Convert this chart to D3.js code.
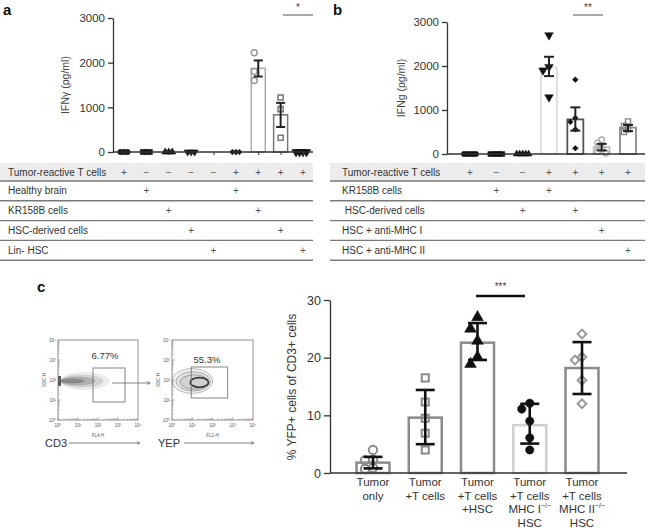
<!DOCTYPE html>
<html><head><meta charset="utf-8">
<script src="https://cdn.jsdelivr.net/npm/d3@7"></script>
<style>body{margin:0;background:#fff}svg{display:block;font-family:"Liberation Sans",Arial,sans-serif}</style>
</head><body><script>
// ================= DATA =================
// Panel a
const aGroups = ["g1","g2","g3","g4","g5","g6","g7","g8","g9"];
const aMeans  = [0,0,0,0,0,0,1873,833,0];
const aErrLo  = [0,0,0,0,0,0,1690,560,0];
const aErrHi  = [0,0,0,0,0,0,2050,1100,0];
const aPoints = [[0,0,0],[0,0,0],[0,0,0],[0,0,0],[],[0,0,0],[2220,1800,1600],[1220,960,320],[0,0,0,0]];
const aTicks  = [0,1000,2000,3000];
const aRowLabels = ["Tumor-reactive T cells","Healthy brain","KR158B cells","HSC-derived cells","Lin- HSC"];
const aRowMarks = [
  ["+","−","−","−","−","+","+","+","+"],
  ["","+","","","","+","","",""],
  ["","","+","","","","+","",""],
  ["","","","+","","","","+",""],
  ["","","","","+","","","","+"]];
// Panel b
const bGroups = ["h1","h2","h3","h4","h5","h6","h7"];
const bMeans  = [0,0,0,1967,786,156,600];
const bErrLo  = [0,0,0,1770,530,80,520];
const bErrHi  = [0,0,0,2210,1060,230,660];
const bPoints = [[0,0,0,0,0],[0,0,0,0,0],[0,0,0,0,0],[2700,1980,1900,1290],[1690,820,730,560,130],[320,250,130,60,20],[740,640,560,500]];
const bTicks  = [0,1000,2000,3000];
const bRowLabels = ["Tumor-reactive T cells","KR158B cells"," HSC-derived cells","HSC + anti-MHC I","HSC + anti-MHC II"];
const bRowMarks = [
  ["+","−","−","+","+","+","+"],
  ["","+","","+","","",""],
  ["","","+","","+","",""],
  ["","","","","","+",""],
  ["","","","","","","+"]];
// Panel c
const cLabels = [["Tumor","only"],["Tumor","+T cells"],["Tumor","+T cells","+HSC"],["Tumor","+T cells","MHC I|−/−","HSC"],["Tumor","+T cells","MHC II|−/−","HSC"]];
const cMeans  = [1.8,9.6,22.6,8.3,18.2];
const cErrLo  = [0.8,5.0,19.6,5.1,13.7];
const cErrHi  = [2.8,14.4,26.0,12.0,22.7];
const cPoints = [[4.0,2.3,2.2,0.9,0.7],[16.5,12.3,9.5,6.9,4.0],[27.0,25.0,22.9,20.1,18.9],[12.1,11.1,9.0,6.1,4.0],[24.1,20.1,19.6,16.1,12.0]];
const cTicks  = [0,10,20,30];
// Flow cytometry insets (log10 decades)
const flowDecades = [0,1,2,3,4];
const flow1Gate = {x:[1.75,3.35], y:[0.9,2.6]};
const flow2Gate = {x:[0.95,2.75], y:[1.1,2.65]};
const flow1Pct = "6.77%", flow2Pct = "55.3%";
const flow1Blobs = [{cx:1.35,cy:1.95,rx:1.2,ry:0.42},{cx:1.2,cy:1.95,rx:1.05,ry:0.3},{cx:1.0,cy:1.95,rx:0.85,ry:0.2},{cx:0.7,cy:1.95,rx:0.6,ry:0.1}];
const flow2Blobs = [{cx:1.0,cy:1.95,rx:1.0,ry:0.62},{cx:1.05,cy:1.93,rx:0.85,ry:0.48},{cx:1.1,cy:1.9,rx:0.7,ry:0.36},{cx:1.35,cy:1.88,rx:0.45,ry:0.24}];

// ================= HELPERS =================
const svg = d3.select("body").append("svg").attr("width",650).attr("height",529);
const SYM = {circle:d3.symbolCircle,square:d3.symbolSquare,triangle:d3.symbolTriangle,triangleDown:d3.symbolTriangle,diamond:d3.symbolSquare};
const ROT = {circle:0,square:0,triangle:0,triangleDown:180,diamond:45};

function swarm(vals, y, minDy, step){
  const placed=[];
  return vals.map(v=>{
    const yy=y(v);
    for(const k of [0,-1,1,-2,2,-3,3]){
      const off=k*step;
      if(!placed.some(p=>p.off===off && Math.abs(p.y-yy)<minDy)){placed.push({off,y:yy});return {v,y:yy,off};}
    }
    return {v,y:yy,off:0};
  });
}

function barPanel(c){
  const g=svg.append("g");
  const x=c.x, y=c.y;
  c.means.forEach((m,i)=>{
    if(m<=0) return;
    g.append("rect").attr("x",x(c.groups[i])-c.bw/2).attr("y",y(m))
      .attr("width",c.bw).attr("height",y(0)-y(m))
      .attr("fill","#fff").attr("stroke",c.barStroke[i]).attr("stroke-width",c.barSW);
  });
  c.points.forEach((pts,i)=>{
    const st=c.markStyle[i];
    const sw=swarm(pts,y,st.minDy,st.step);
    g.selectAll(null).data(sw).join("path")
      .attr("d",d3.symbol().type(SYM[st.shape]).size(st.size))
      .attr("transform",d=>`translate(${x(c.groups[i])+d.off+(st.shift||0)},${d.y}) rotate(${ROT[st.shape]})`)
      .attr("fill",st.fill).attr("stroke",st.stroke).attr("stroke-width",st.sw);
  });
  c.means.forEach((m,i)=>{
    if(c.hi[i]<=0) return;
    const cx=x(c.groups[i]);
    const eg=g.append("g").attr("stroke",c.errColor).attr("stroke-width",c.errSW);
    eg.append("line").attr("x1",cx).attr("x2",cx).attr("y1",y(c.lo[i])).attr("y2",y(c.hi[i]));
    [c.lo[i],c.hi[i]].forEach(v=>eg.append("line").attr("x1",cx-c.cap/2).attr("x2",cx+c.cap/2).attr("y1",y(v)).attr("y2",y(v)));
  });
  const ax=g.append("g").attr("transform",`translate(${c.axisX},0)`)
    .call(d3.axisLeft(y).tickValues(c.ticks).tickFormat(d3.format("d")).tickSize(c.tickLen).tickSizeOuter(0).tickPadding(3));
  ax.select(".domain").attr("stroke","#333").attr("stroke-width",c.axSW);
  ax.selectAll(".tick line").attr("stroke","#333").attr("stroke-width",c.axSW);
  ax.selectAll("text").attr("font-size",c.fs).attr("fill","#333").attr("font-family","Liberation Sans, Arial, sans-serif");
  g.append("line").attr("x1",c.axisX).attr("x2",c.axisEnd).attr("y1",y(0)).attr("y2",y(0))
    .attr("stroke","#333").attr("stroke-width",c.axSW);
  if(c.xTicks){
    const bx=g.append("g").attr("transform",`translate(0,${y(0)})`)
      .call(d3.axisBottom(x).tickSize(3).tickSizeOuter(0).tickFormat(""));
    bx.select(".domain").remove();
    bx.selectAll(".tick line").attr("stroke","#333");
  }
  return g;
}

function table(t){
  const g=svg.append("g");
  g.append("rect").attr("x",t.x0).attr("y",163).attr("width",t.x1-t.x0).attr("height",18).attr("fill","#ececec");
  t.labels.forEach((lab,r)=>{
    const top = r===0?163:181+(r-1)*19.8;
    const mid = r===0?172:top+9.9;
    g.append("line").attr("x1",t.x0).attr("x2",t.x1).attr("y1",r===0?181:top+19.8).attr("y2",r===0?181:top+19.8)
      .attr("stroke","#7a7a7a").attr("stroke-width",1.4);
    g.append("text").attr("x",t.x0+t.pad).attr("y",mid).attr("dy","0.35em").attr("font-size",10).attr("fill","#333")
      .style("white-space","pre").text(lab);
    t.marks[r].forEach((m,i)=>{
      if(!m) return;
      g.append("text").attr("x",t.x(t.groups[i])).attr("y",mid).attr("dy","0.35em")
        .attr("text-anchor","middle").attr("font-size",10).attr("fill","#555").text(m);
    });
  });
}

function sig(x1,x2,yy,stars,col,sw,ty){
  svg.append("line").attr("x1",x1).attr("x2",x2).attr("y1",yy).attr("y2",yy).attr("stroke",col).attr("stroke-width",sw);
  svg.append("text").attr("x",(x1+x2)/2).attr("y",ty).attr("text-anchor","middle").attr("font-size",10).attr("fill","#444").text(stars);
}

// ================= PANEL A =================
const ax = d3.scalePoint().domain(aGroups).range([124,303]);
const ay = d3.scaleLinear().domain([0,3000]).range([152,18]);
const blk = (shape,size)=>({shape,size,fill:"#111",stroke:"#111",sw:0.5,minDy:5,step:3.5});
barPanel({x:ax,y:ay,groups:aGroups,means:aMeans,lo:aErrLo,hi:aErrHi,points:aPoints,
  bw:14,barSW:1.5,barStroke:["#555","#555","#555","#555","#555","#555","#adadad","#777","#555"],
  markStyle:[blk("circle",24),blk("square",26),blk("triangle",22),blk("triangleDown",22),blk("circle",20),blk("diamond",16),
    {shape:"circle",size:28,fill:"none",stroke:"#999",sw:1.5,minDy:6,step:0,shift:-4},
    {shape:"square",size:26,fill:"none",stroke:"#777",sw:1.5,minDy:6,step:0},
    blk("triangleDown",32)],
  errColor:"#222",errSW:2,cap:9,axisX:113,axisEnd:313,ticks:aTicks,tickLen:5,axSW:1.3,fs:11.5,xTicks:true});
svg.append("text").attr("transform","translate(69,85) rotate(-90)").attr("text-anchor","middle").attr("font-size",10.5).attr("fill","#444").text("IFNγ (pg/ml)");
sig(283,313,15,"*","#555",1,11);
table({x0:0,x1:313,pad:8,x:ax,groups:aGroups,labels:aRowLabels,marks:aRowMarks});

// ================= PANEL B =================
const bx = d3.scalePoint().domain(bGroups).range([470,628]);
const by = d3.scaleLinear().domain([0,3000]).range([154,22]);
const blkb = (shape,size)=>({shape,size,fill:"#111",stroke:"#111",sw:0.5,minDy:5,step:3});
barPanel({x:bx,y:by,groups:bGroups,means:bMeans,lo:bErrLo,hi:bErrHi,points:bPoints,
  bw:16,barSW:1.8,barStroke:["#555","#555","#555","#dcdcdc","#555","#bdbdbd","#8a8a8a"],
  markStyle:[blkb("circle",22),blkb("square",24),blkb("triangle",20),
    {shape:"triangleDown",size:32,fill:"#111",stroke:"#111",sw:0.5,minDy:7,step:6},
    {shape:"diamond",size:16,fill:"#111",stroke:"#111",sw:0.5,minDy:6,step:5},
    {shape:"circle",size:26,fill:"none",stroke:"#aaa",sw:1.4,minDy:6,step:4},
    {shape:"square",size:26,fill:"none",stroke:"#888",sw:1.4,minDy:5,step:4}],
  errColor:"#222",errSW:2,cap:10,axisX:447,axisEnd:645,ticks:bTicks,tickLen:5,axSW:1.3,fs:11.5,xTicks:false});
svg.append("text").attr("transform","translate(405,88) rotate(-90)").attr("text-anchor","middle").attr("font-size",10.5).attr("fill","#444").text("IFNg (pg/ml)");
sig(573,603,15,"**","#555",1,11);
table({x0:330,x1:645,pad:12,x:bx,groups:bGroups,labels:bRowLabels,marks:bRowMarks});

// ================= PANEL C (bars) =================
const cGroups = cLabels.map((d,i)=>"c"+i);
const cx = d3.scalePoint().domain(cGroups).range([373,582]);
const cy = d3.scaleLinear().domain([0,30]).range([473,300]);
barPanel({x:cx,y:cy,groups:cGroups,means:cMeans,lo:cErrLo,hi:cErrHi,points:cPoints,
  bw:33,barSW:2.5,barStroke:["#8a8a8a","#8a8a8a","#8a8a8a","#d0d0d0","#8a8a8a"],
  markStyle:[
    {shape:"circle",size:55,fill:"none",stroke:"#8a8a8a",sw:2,minDy:8,step:8},
    {shape:"square",size:50,fill:"none",stroke:"#8a8a8a",sw:2,minDy:8,step:7},
    {shape:"triangle",size:60,fill:"#111",stroke:"#111",sw:0.5,minDy:14,step:7},
    {shape:"circle",size:55,fill:"#111",stroke:"#111",sw:0.5,minDy:9,step:8},
    {shape:"diamond",size:38,fill:"none",stroke:"#999",sw:2,minDy:9,step:7}],
  errColor:"#111",errSW:2.6,cap:19,axisX:330,axisEnd:627,ticks:cTicks,tickLen:6,axSW:1.3,fs:12.5,xTicks:false});
svg.append("text").attr("transform","translate(296,387) rotate(-90)").attr("text-anchor","middle").attr("font-size",12).attr("fill","#333").text("% YFP+ cells of CD3+ cells");
sig(476,525,296,"***","#111",2.6,290);
cLabels.forEach((lines,i)=>{
  lines.forEach((ln,j)=>{
    const t=svg.append("text").attr("x",cx(cGroups[i])).attr("y",486+j*13.5).attr("text-anchor","middle")
      .attr("font-size",11.5).attr("fill","#333");
    const parts=ln.split("|");
    t.append("tspan").text(parts[0]);
    if(parts[1]) t.append("tspan").attr("font-size",7).attr("dy",-5).text(parts[1]);
  });
});

// ================= PANEL C (flow insets) =================
const defs=svg.append("defs");
defs.append("marker").attr("id","arr").attr("viewBox","0 0 10 10").attr("refX",9).attr("refY",5)
  .attr("markerWidth",5).attr("markerHeight",5).attr("orient","auto")
  .append("path").attr("d","M1,1L9,5L1,9").attr("fill","none").attr("stroke","#555").attr("stroke-width",1.5);

function flowPlot(f){
  const g=svg.append("g");
  const fx=d3.scaleLinear().domain([0,4]).range([f.x0,f.x0+f.w]);
  const fy=d3.scaleLinear().domain([0,4]).range([f.y0+f.h,f.y0]);
  const shades=f.shades;
  f.blobs.forEach((b,i)=>{
    g.append("ellipse").attr("cx",fx(b.cx)).attr("cy",fy(b.cy))
      .attr("rx",fx(b.rx)-fx(0)).attr("ry",fy(0)-fy(b.ry))
      .attr("fill",shades[i].fill).attr("stroke",shades[i].stroke).attr("stroke-width",shades[i].sw);
  });
  if(f.edge) g.append("rect").attr("x",fx(0)).attr("y",fy(2.2)).attr("width",3).attr("height",fy(1.7)-fy(2.2)).attr("fill","#555");
  g.append("rect").attr("x",f.x0).attr("y",f.y0).attr("width",f.w).attr("height",f.h).attr("fill","none").attr("stroke","#777").attr("stroke-width",0.8);
  flowDecades.slice(0,4).forEach(d=>{
    d3.range(1,10).forEach(k=>{
      const v=d+Math.log10(k), len=k===1?3:1.5;
      g.append("line").attr("x1",fx(v)).attr("x2",fx(v)).attr("y1",f.y0+f.h).attr("y2",f.y0+f.h-len).attr("stroke","#777").attr("stroke-width",0.5);
      g.append("line").attr("y1",fy(v)).attr("y2",fy(v)).attr("x1",f.x0).attr("x2",f.x0+len).attr("stroke","#777").attr("stroke-width",0.5);
    });
  });
  flowDecades.forEach(d=>{
    g.append("text").attr("x",fx(d)).attr("y",f.y0+f.h+7).attr("text-anchor","middle").attr("font-size",4.5).attr("fill","#555").text("10"+"⁰¹²³⁴"[d]);
    g.append("text").attr("x",f.x0-2).attr("y",fy(d)+1.5).attr("text-anchor","end").attr("font-size",4.5).attr("fill","#555").text("10"+"⁰¹²³⁴"[d]);
  });
  g.append("text").attr("x",f.x0+f.w/2).attr("y",f.y0+f.h+17).attr("text-anchor","middle").attr("font-size",4.5).attr("fill","#555").text(f.chan);
  g.append("text").attr("transform",`translate(${f.x0-12},${f.y0+f.h/2}) rotate(-90)`).attr("text-anchor","middle").attr("font-size",4.5).attr("fill","#555").text("SSC-H");
  g.append("rect").attr("x",fx(f.gate.x[0])).attr("y",fy(f.gate.y[1])).attr("width",fx(f.gate.x[1])-fx(f.gate.x[0]))
    .attr("height",fy(f.gate.y[0])-fy(f.gate.y[1])).attr("fill","none").attr("stroke","#777").attr("stroke-width",0.9);
  g.append("text").attr("x",f.pctX).attr("y",f.pctY).attr("text-anchor","middle").attr("font-size",9.5).attr("fill","#333").text(f.pct);
  g.append("text").attr("x",f.labX).attr("y",f.y0+f.h+27).attr("font-size",11).attr("fill","#333").text(f.label);
  g.append("line").attr("x1",f.arrX[0]).attr("x2",f.arrX[1]).attr("y1",f.y0+f.h+23).attr("y2",f.y0+f.h+23)
    .attr("stroke","#666").attr("stroke-width",0.8).attr("marker-end","url(#arr)");
}
flowPlot({x0:58,y0:340,w:80,h:80,gate:flow1Gate,pct:flow1Pct,pctX:105,pctY:359,blobs:flow1Blobs,edge:true,
  shades:[{fill:"#ececec",stroke:"#ddd",sw:0.5},{fill:"#d2d2d2",stroke:"#c4c4c4",sw:0.5},{fill:"#b0b0b0",stroke:"#999",sw:0.5},{fill:"#8a8a8a",stroke:"#777",sw:0.5}],
  chan:"FL4-H",label:"CD3",labX:45,arrX:[69,140]});
flowPlot({x0:172,y0:340,w:81,h:80,gate:flow2Gate,pct:flow2Pct,pctX:207,pctY:363,blobs:flow2Blobs,edge:false,
  shades:[{fill:"#f1f1f1",stroke:"#aaa",sw:0.8},{fill:"#e4e4e4",stroke:"#999",sw:0.8},{fill:"#d4d4d4",stroke:"#888",sw:0.8},{fill:"#cfcfcf",stroke:"#333",sw:1.6}],
  chan:"FL1-H",label:"YEP",labX:158,arrX:[184,254]});
svg.append("line").attr("x1",112).attr("x2",150).attr("y1",383).attr("y2",383).attr("stroke","#666").attr("stroke-width",0.8).attr("marker-end","url(#arr)");

[["a",3,15],["b",333,15],["c",37,292]].forEach(([t,x,y])=>svg.append("text").attr("x",x).attr("y",y).attr("font-size",15).attr("font-weight","bold").attr("fill","#111").text(t));
</script></body></html>
